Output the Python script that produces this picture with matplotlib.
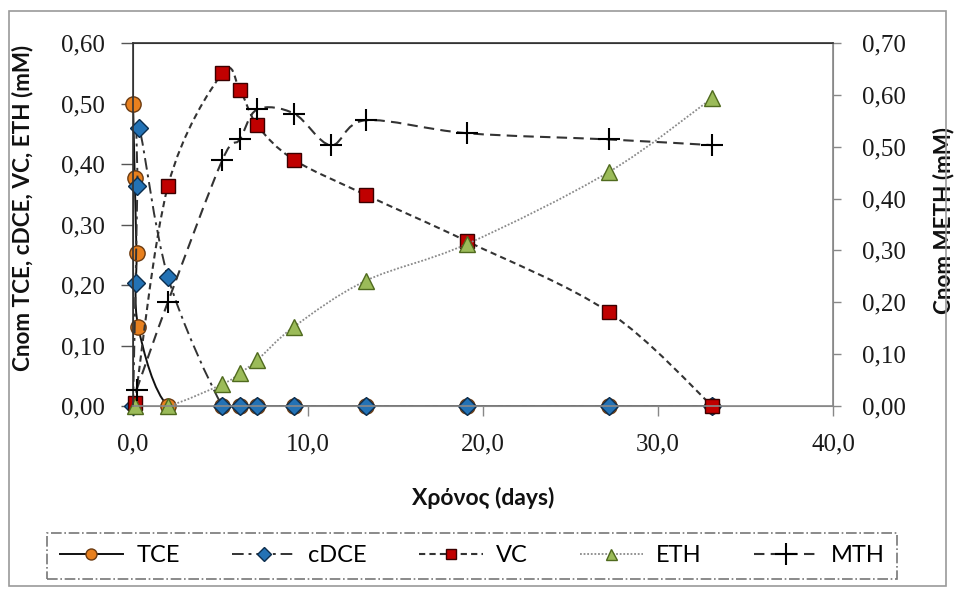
import matplotlib
matplotlib.use('Agg')
import matplotlib.pyplot as plt
from matplotlib.path import Path
from matplotlib.patches import PathPatch, Rectangle
from matplotlib.lines import Line2D
from matplotlib.ticker import FuncFormatter
import numpy as np

# ---------------- data ----------------
tce_t = [0.0, 0.1, 0.2, 0.3, 2.0, 5.1, 6.1, 7.1, 9.2, 13.3, 19.1, 27.2, 33.1]
tce = [0.500, 0.377, 0.253, 0.131, 0.0, 0.0, 0.0, 0.0, 0.0, 0.0, 0.0, 0.0, 0.0]

cdce_t = [0.0, 0.15, 0.25, 0.35, 2.0, 5.1, 6.1, 7.1, 9.2, 13.3, 19.1, 27.2, 33.1]
cdce = [0.0, 0.204, 0.364, 0.460, 0.213, 0.0, 0.0, 0.0, 0.0, 0.0, 0.0, 0.0, 0.0]

vc_t = [0.1, 2.0, 5.1, 6.1, 7.1, 9.2, 13.3, 19.1, 27.2, 33.1]
vc = [0.005, 0.364, 0.550, 0.523, 0.464, 0.407, 0.349, 0.272, 0.155, 0.0]

eth_t = [0.1, 2.0, 5.1, 6.1, 7.1, 9.2, 13.3, 19.1, 27.2, 33.1]
eth = [0.0, 0.0, 0.036, 0.054, 0.076, 0.131, 0.207, 0.268, 0.387, 0.509]

mth_t = [0.2, 2.0, 5.1, 6.1, 7.1, 9.2, 11.3, 13.3, 19.1, 27.2, 33.1]
mth = [0.031, 0.201, 0.474, 0.514, 0.572, 0.564, 0.503, 0.551, 0.526, 0.514, 0.503]

series_names = ["TCE", "cDCE", "VC", "ETH", "MTH"]
x_ticks = [0, 10, 20, 30, 40]
y_left_ticks = [0.0, 0.1, 0.2, 0.3, 0.4, 0.5, 0.6]
y_right_ticks = [0.0, 0.1, 0.2, 0.3, 0.4, 0.5, 0.6, 0.7]

xlabel = "Χρόνος (days)"
ylabel_left = "Cnom TCE, cDCE, VC, ETH (mM)"
ylabel_right = "Cnom METH (mM)"

# ---------------- helpers ----------------
def smooth_path(x, y):
    """Excel-like smoothed line: cubic Bezier through the points."""
    pts = np.column_stack([x, y]).astype(float)
    n = len(pts)
    verts = [pts[0]]
    codes = [Path.MOVETO]
    for i in range(n - 1):
        p0 = pts[i - 1] if i > 0 else pts[i]
        p1 = pts[i]
        p2 = pts[i + 1]
        p3 = pts[i + 2] if i + 2 < n else pts[i + 1]
        c1 = p1 + (p2 - p0) / 6.0
        c2 = p2 - (p3 - p1) / 6.0
        verts += [c1, c2, p2]
        codes += [Path.CURVE4] * 3
    return Path(verts, codes)

SANS = ['Lato', 'Noto Sans', 'DejaVu Sans']
SERIF = ['Liberation Serif', 'DejaVu Serif']

fig = plt.figure(figsize=(9.55, 5.90), dpi=100)
fig.patch.set_facecolor('white')
ax = fig.add_axes([133/955, 1-406/590, 700/955, 363/590])
ax2 = ax.twinx()

styles = {
    "TCE":  dict(color='#111111', ls='-', lw=1.4, marker='o', mfc='#E8801E', mec='#6b3a10', ms=11),
    "cDCE": dict(color='#333333', ls=(0, (6, 2.5, 1.5, 2.5)), lw=1.4, marker='D', mfc='#2372B5', mec='#0c2d4d', ms=9.5),
    "VC":   dict(color='#333333', ls=(0, (3, 2)), lw=1.5, marker='s', mfc='#C00000', mec='#3a0000', ms=10.5),
    "ETH":  dict(color='#8a8a8a', ls=(0, (1, 1)), lw=1.3, marker='^', mfc='#9BBB59', mec='#4f6a1e', ms=11),
    "MTH":  dict(color='#333333', ls=(0, (5, 3)), lw=1.5, marker='+', mfc='none', mec='#000000', ms=16),
}

data = {
    "TCE": (tce_t, tce, ax),
    "cDCE": (cdce_t, cdce, ax),
    "VC": (vc_t, vc, ax),
    "ETH": (eth_t, eth, ax),
    "MTH": (mth_t, mth, ax2),
}

handles = []
for k, name in enumerate(series_names):
    xs, ys, a = data[name]
    st = styles[name]
    patch = PathPatch(smooth_path(xs, ys), fill=False, edgecolor=st['color'],
                      lw=st['lw'], linestyle=st['ls'], zorder=2 + 2*k)
    a.add_patch(patch)
    a.plot(xs, ys, linestyle='none', marker=st['marker'], markerfacecolor=st['mfc'],
           markeredgecolor=st['mec'], markersize=st['ms'],
           markeredgewidth=1.5 if name == 'MTH' else 1.0, zorder=3 + 2*k, clip_on=False)
    handles.append(Line2D([], [], color=st['color'], linestyle=st['ls'], lw=st['lw'],
                          marker=st['marker'], markerfacecolor=st['mfc'],
                          markeredgecolor=st['mec'],
                          markersize=st['ms'] * (0.72 if name != 'MTH' else 0.95),
                          markeredgewidth=1.5 if name == 'MTH' else 1.0))

ax.set_xlim(0, 40)
ax.set_ylim(0, 0.6)
ax2.set_ylim(0, 0.7)
ax.set_xticks(x_ticks)
ax.set_yticks(y_left_ticks)
ax2.set_yticks(y_right_ticks)

fmt2 = FuncFormatter(lambda v, p: f"{v:.2f}".replace('.', ','))
fmt1 = FuncFormatter(lambda v, p: f"{v:.1f}".replace('.', ','))
ax.yaxis.set_major_formatter(fmt2)
ax2.yaxis.set_major_formatter(fmt2)
ax.xaxis.set_major_formatter(fmt1)

for lab in ax.get_xticklabels() + ax.get_yticklabels() + ax2.get_yticklabels():
    lab.set_fontfamily(SERIF)
    lab.set_fontsize(18)
    lab.set_color('#1a1a1a')

ax.tick_params(axis='y', direction='out', length=9, width=1, color='#555555', pad=11)
ax.tick_params(axis='x', direction='out', length=7, width=1, color='#888888', pad=13)
ax2.tick_params(axis='y', direction='out', length=6, width=1, color='#888888', pad=15)

for a in (ax, ax2):
    a.spines['top'].set_color('#333333')
    a.spines['left'].set_color('#333333')
    a.spines['bottom'].set_color('#888888')
    a.spines['right'].set_color('#888888')
for s in ax2.spines.values():
    s.set_linewidth(1.2)

ax.set_ylabel(ylabel_left, fontfamily=SANS, fontsize=16.2, fontweight='bold', color='#111111')
ax.yaxis.set_label_coords((33-133)/700, (406-208)/363)
ax2.set_ylabel(ylabel_right, fontfamily=SANS, fontsize=16.2, fontweight='bold', color='#111111')
ax2.yaxis.set_label_coords((933-133)/700, (406-220)/363)
ax.set_xlabel(xlabel, fontfamily=SANS, fontsize=16.5, fontweight='bold', color='#111111')
ax.xaxis.set_label_coords(0.5, (406-487)/363)

leg = fig.legend(handles, series_names, loc='center', bbox_to_anchor=(472/955, 1-556/590),
                 ncol=5, frameon=True, fancybox=False, handlelength=2.7, handletextpad=0.55,
                 columnspacing=2.2, borderpad=0.55, prop={'family': SANS, 'size': 17})
fr = leg.get_frame()
fr.set_edgecolor('#555555')
fr.set_linestyle('-.')
fr.set_linewidth(1.2)

fig.patches.append(Rectangle((9/955, 1-586/590), (946-9)/955, (586-11)/590,
                             transform=fig.transFigure, fill=False, edgecolor='#9a9a9a', lw=1.2))

fig.savefig('out.png', dpi=100, facecolor='white')
